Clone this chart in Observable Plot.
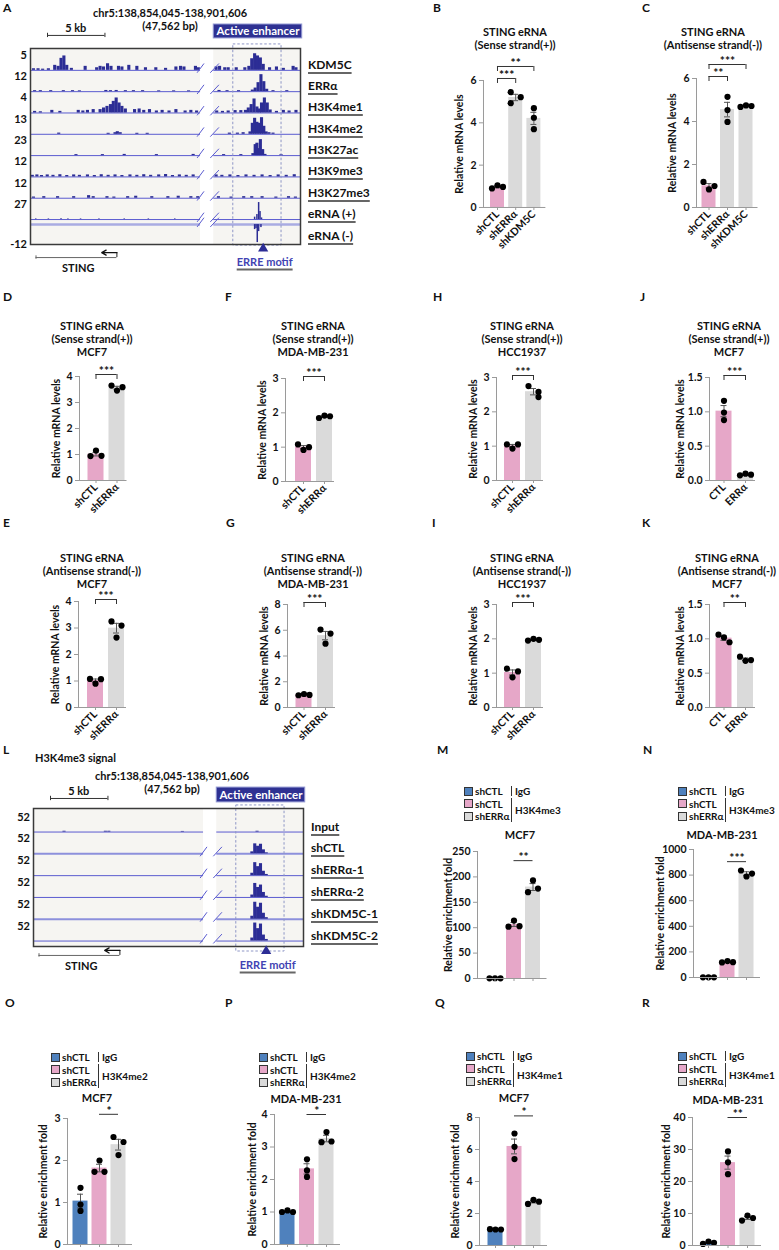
<!DOCTYPE html>
<html>
<head>
<meta charset="utf-8">
<script src="https://cdn.jsdelivr.net/npm/d3@7"></script>
<script src="https://cdn.jsdelivr.net/npm/@observablehq/plot@0.6"></script>
<style>
  body { margin: 0; background: #fff; }
  #fig { position: relative; width: 779px; height: 1250px; overflow: hidden; background: #fff;
         font-family: Lato, "Open Sans", sans-serif; font-weight: 700; color: #111; }
  #fig svg { position: absolute; overflow: visible; }
  .t { position: absolute; white-space: nowrap; line-height: 1; }
  .u { text-decoration: underline; text-decoration-color: #666; text-decoration-thickness: 1.5px; text-underline-offset: 3px; }
  .sq { position: absolute; width: 9px; height: 9px; border: 1px solid #333; box-sizing: border-box; }
  .vl { position: absolute; width: 1px; background: #333; }
</style>
</head>
<body>
<div id="fig"></div>
<script>
// ---------- colours ----------
const PINK = "#e6a7c8", GREY = "#dadada", BLUE = "#4f81bd", NAVY = "#2c2d95";

// ---------- qPCR of STING eRNA (three replicates per group) ----------
const groupsKD = ["shCTL", "shERRα", "shKDM5C"];
const groups2 = ["shCTL", "shERRα"];
const groupsOE = ["CTL", "ERRα"];

const sense_B = [[0.90, 1.05, 0.97], [5.45, 4.93, 5.21], [4.69, 4.24, 3.70]];
const antisense_C = [[1.19, 0.84, 1.00], [5.15, 4.53, 3.98], [4.68, 4.75, 4.72]];
const sense_MCF7 = [[0.94, 1.15, 0.95], [3.65, 3.46, 3.59]];
const sense_MDA = [[1.08, 0.92, 1.00], [1.85, 1.92, 1.90]];
const sense_HCC = [[1.05, 0.93, 1.05], [2.75, 2.58, 2.43]];
const sense_MCF7_OE = [[1.16, 0.99, 0.88], [0.075, 0.10, 0.085]];
const antisense_MCF7 = [[1.08, 0.90, 1.07], [3.25, 2.64, 3.09]];
const antisense_MDA = [[0.95, 1.05, 0.98], [6.05, 4.96, 5.74]];
const antisense_HCC = [[1.13, 0.88, 1.05], [1.95, 2.00, 1.97]];
const antisense_MCF7_OE = [[1.06, 1.02, 0.95], [0.74, 0.68, 0.69]];

// significance: [group a, group b, stars]
const sig_B = [[0, 1, "***"], [0, 2, "**"]];
const sig_C = [[0, 1, "**"], [0, 2, "***"]];
const sig3 = [[0, 1, "***"]];
const sig2 = [[0, 1, "**"]];

// ---------- ChIP-qPCR (IgG / histone mark enrichment) ----------
const chipGroups = ["shCTL IgG", "shCTL", "shERRα"];
const h3k4me3_MCF7 = [[0.3, 0.5, 0.4], [102, 114, 103], [170, 193, 177]];
const h3k4me3_MDA = [[1.0, 1.5, 1.0], [118, 128, 120], [836, 789, 812]];
const h3k4me2_MCF7 = [[1.35, 0.95, 0.80], [1.73, 2.00, 1.73], [2.56, 2.13, 2.44]];
const h3k4me2_MDA = [[1.0, 1.05, 1.0], [2.62, 2.28, 2.08], [3.15, 3.46, 3.17]];
const h3k4me1_MCF7 = [[1.02, 1.0, 1.0], [7.0, 6.17, 5.4], [2.6, 2.85, 2.74]];
const h3k4me1_MDA = [[0.5, 1.25, 0.83], [29.4, 26.0, 22.3], [7.8, 9.35, 8.6]];
const sigM = [[1, 2, "**"]], sigN = [[1, 2, "***"]], sigOne = [[1, 2, "*"]];

// ---------- genome browser tracks (position kb, signal % of track range) ----------
const trackNamesA = ["KDM5C", "ERRα", "H3K4me1", "H3K4me2", "H3K27ac", "H3K9me3", "H3K27me3", "eRNA (+)", "eRNA (-)"];
const trackRangeA = ["5", "12", "4", "13", "23", "12", "12", "27", "-12"];
const kdm5c = [[0.3,8],[0.7,8],[1.1,6],[1.6,8],[2.15,25],[2.45,20],[2.7,60],[2.95,72],[3.2,25],[3.6,10],[4.8,20],[5.8,13],[6.1,20],[6.4,17],[6.75,33],[7.05,20],[7.7,20],[8.0,17],[8.6,25],[9.3,20],[10.05,13],[10.95,13],[11.8,10],[12.7,17],[13.1,20],[13.4,17],[14.4,20],[14.65,13],[16.2,17],[16.5,20],[16.95,13],[17.25,13],[17.95,13],[18.7,13],[19.05,20],[19.3,58],[19.55,83],[19.8,72],[20.05,62],[20.3,30],[20.85,13],[21.45,17],[22.05,10],[22.9,20],[23.15,13]];
const erra = [[0.4,5],[0.9,5],[1.8,5],[2.9,5],[3.7,5],[4.3,4],[6.6,6],[7.0,5],[7.5,6],[8.3,5],[9.0,5],[9.8,5],[11.2,4],[12.5,4],[13.8,4],[16.45,6],[17.15,5],[18.15,5],[19.35,8],[19.6,18],[19.85,45],[20.1,85],[20.35,50],[20.6,12],[21.15,5],[22.35,5]];
const h3k4me1 = [[0.4,8],[0.9,6],[1.9,13],[2.6,8],[4.2,13],[4.6,10],[5.0,13],[5.5,17],[6.1,17],[6.4,25],[6.7,33],[7.0,42],[7.25,58],[7.5,75],[7.75,50],[8.0,33],[8.3,20],[9.1,17],[9.5,20],[9.9,13],[10.4,17],[11.0,10],[11.5,13],[12.1,10],[12.7,17],[13.5,10],[14.0,13],[14.5,10],[16.25,10],[16.75,8],[17.25,10],[17.85,12],[18.35,12],[18.75,13],[19.0,25],[19.25,42],[19.5,70],[19.75,30],[19.95,20],[20.15,50],[20.4,75],[20.65,50],[20.9,15],[21.45,8],[22.05,13],[22.55,10],[23.15,13]];
const h3k4me2 = [[2.5,6],[6.8,5],[7.4,8],[7.6,13],[7.85,8],[9.3,5],[10.2,5],[17.35,6],[18.05,6],[18.55,8],[19.15,12],[19.35,55],[19.55,80],[19.75,60],[19.95,55],[20.15,83],[20.35,40],[20.55,12],[20.8,8],[21.15,6]];
const h3k27ac = [[4.0,5],[6.3,5],[8.2,6],[11.0,5],[14.2,6],[16.85,5],[18.35,5],[19.4,10],[19.6,55],[19.75,62],[19.9,35],[20.05,80],[20.25,30],[20.45,6],[21.85,5]];
const h3k9me3 = [[0.2,8],[0.6,10],[1.0,7],[1.5,10],[2.0,8],[2.6,11],[3.2,7],[3.8,10],[4.3,8],[5.0,10],[5.6,7],[6.2,11],[6.8,8],[7.4,10],[8.0,7],[8.7,10],[9.3,8],[9.9,11],[10.5,8],[11.2,10],[11.8,12],[12.4,7],[13.0,10],[13.6,8],[14.2,10],[16.2,10],[16.7,8],[17.4,10],[18.1,7],[18.8,10],[19.5,8],[20.2,10],[20.9,7],[21.6,10],[22.3,8],[23.0,11]];
const h3k27me3 = [[0.3,6],[1.2,8],[2.4,8],[3.8,8],[5.1,13],[5.5,8],[6.7,8],[7.3,6],[8.5,8],[9.2,10],[10.6,8],[12.0,8],[12.9,10],[14.0,8],[14.6,8],[16.4,8],[17.5,6],[18.6,8],[19.3,8],[20.2,8],[21.4,6],[22.5,8],[23.1,6]];
const eRNAplus = [[0.5,3],[1.6,3],[2.7,4],[3.3,3],[4.4,3],[6.0,3],[8.2,3],[10.3,3],[12.6,3],[19.55,12],[19.75,25],[19.9,85],[20.02,40],[20.15,8]];
const eRNAminus = [[19.55,-25],[19.67,-20],[19.78,-90],[19.9,-35],[20.1,-15]];

const trackNamesL = ["Input", "shCTL", "shERRα-1", "shERRα-2", "shKDM5C-1", "shKDM5C-2"];
const trackRangeL = ["52", "52", "52", "52", "52", "52"];
const h3k4me3_input = [[2.7,4],[6.3,4],[6.6,4],[13.0,3],[19.5,4]];
const h3k4me3_shCTL = [[19.05,10],[19.3,50],[19.55,38],[19.8,48],[20.05,20],[20.3,5]];
const h3k4me3_shERRa1 = [[19.05,12],[19.3,65],[19.55,45],[19.8,60],[20.05,22],[20.3,6]];
const h3k4me3_shERRa2 = [[19.05,12],[19.3,70],[19.55,50],[19.8,62],[20.05,25],[20.3,6]];
const h3k4me3_shKDM5C1 = [[19.05,15],[19.3,85],[19.55,60],[19.8,80],[20.05,30],[20.3,8]];
const h3k4me3_shKDM5C2 = [[19.05,15],[19.3,90],[19.55,62],[19.8,85],[20.05,30],[20.3,8]];

// locus features (kb along the displayed window)
const stingGene = {start: 0.48, end: 7.52, tip: 6.2};
const errMotifKb = 20.25;
const enhancerKb = [15.95, 23.65];
const breakKb = [14.8, 15.95];
const dashedKb = [17.65, 21.85];

// ---------- helpers ----------
const fig = document.getElementById("fig");
const STYLE = {fontFamily: "Lato, 'Open Sans', sans-serif", fontSize: "10.5px", fontWeight: "700",
               background: "transparent", overflow: "visible", color: "#111"};

function label(text, x, y, o = {}) {
  const el = document.createElement("div");
  el.className = "t" + (o.cls ? " " + o.cls : "");
  el.textContent = text;
  const tx = o.anchor === "start" ? 0 : o.anchor === "end" ? -100 : -50;
  el.style.left = x + "px";
  el.style.top = y + "px";
  el.style.fontSize = (o.size || 11) + "px";
  if (o.color) el.style.color = o.color;
  if (o.weight) el.style.fontWeight = o.weight;
  el.style.transform = `translate(${tx}%, -50%)`;
  fig.appendChild(el);
  return el;
}
function box(cls, x, y, w, h, bg) {
  const el = document.createElement("div");
  el.className = cls;
  el.style.left = x + "px"; el.style.top = y + "px";
  if (w != null) el.style.width = w + "px";
  if (h != null) el.style.height = h + "px";
  if (bg) el.style.background = bg;
  fig.appendChild(el);
  return el;
}
function place(svg, left, top) {
  svg.style.left = left + "px";
  svg.style.top = top + "px";
  fig.appendChild(svg);
  return svg;
}

// horizontal spread of replicate dots (px) so close values sit side by side
function spreadDots(vals, ppu) {
  const ys = vals.map(v => v * ppu);
  if (d3.max(ys) - d3.min(ys) < 9) return [-5.5, 0, 5.5];
  const off = vals.map(() => 0);
  const idx = d3.range(vals.length).sort((a, b) => ys[a] - ys[b]);
  for (let j = 1; j < idx.length; j++) {
    const a = idx[j - 1], b = idx[j];
    if (ys[b] - ys[a] < 6) { off[Math.min(a, b)] = -5; off[Math.max(a, b)] = 5; }
  }
  return off;
}

// ---------- bar chart with replicate dots, SEM and significance ----------
function barPanel(c) {
  const n = c.reps.length;
  const ML = 52, MR = 6, MT = 34, MB = c.labels ? 52 : 12;
  const step = c.step, plotH = c.y0 - c.yTop, ppu = plotH / c.ymax;
  const xa = -(c.x0 - c.ax) / step, xb = n - 1 + c.tail / step;
  const W = (xb - xa) * step;
  const stats = c.reps.map((r, i) => {
    const m = d3.mean(r), s = d3.deviation(r) / Math.sqrt(r.length);
    return {i, m, lo: m - s, hi: m + s, color: c.colors[i]};
  });
  const pts = c.reps.flatMap((r, i) => {
    const off = spreadDots(r, ppu);
    return r.map((v, k) => ({x: i + off[k] / step, v}));
  });
  const hw = c.barW / 2 / step, cap = 3 / step;
  const sig = c.sig.map(([a, b, s], k) => {
    const y = c.sigY != null ? c.sigY : c.ymax + (2 + 12 * k) / ppu;
    return {a, b, s, y, leg: y - 5 / ppu};
  });
  const legs = sig.flatMap(d => [{x: d.a, y1: d.y, y2: d.leg}, {x: d.b, y1: d.y, y2: d.leg}]);
  const marks = [
    Plot.rect(stats, {x1: d => d.i - hw, x2: d => d.i + hw, y1: 0, y2: "m", fill: "color"}),
    Plot.ruleX(stats, {x: "i", y1: "lo", y2: "hi", stroke: "#555"}),
    Plot.ruleY(stats, {y: "hi", x1: d => d.i - cap, x2: d => d.i + cap, stroke: "#555"}),
    Plot.ruleY(stats, {y: "lo", x1: d => d.i - cap, x2: d => d.i + cap, stroke: "#555"}),
    Plot.dot(pts, {x: "x", y: "v", r: 3.1, fill: "#000"}),
    Plot.ruleY([0], {x1: xa, x2: xb, stroke: "#9a9a9a"}),
    Plot.ruleX([xa], {y1: 0, y2: c.ymax, stroke: "#9a9a9a"}),
    Plot.axisY({ticks: c.ticks, tickFormat: c.fmt || (d => String(d)), tickSize: 4, tickPadding: 3, stroke: "#9a9a9a", label: null}),
    Plot.axisX({ticks: d3.range(n), tickFormat: c.labels ? (i => c.labels[i]) : (() => ""),
                tickSize: 3, tickPadding: 2, tickRotate: c.labels ? -45 : 0, stroke: "#9a9a9a", label: null}),
    Plot.ruleY(sig, {y: "y", x1: "a", x2: "b", stroke: "#333"}),
    Plot.text(sig, {x: d => (d.a + d.b) / 2, y: "y", text: "s", dy: -3.5, fontSize: 12}),
    Plot.text([c.ylabel], {text: d => d, frameAnchor: "left", textAnchor: "middle", rotate: -90, dx: -c.ylOff, fontSize: 10.5})
  ];
  if (c.sigY == null) marks.push(Plot.ruleX(legs, {x: "x", y1: "y1", y2: "y2", stroke: "#333"}));
  const svg = Plot.plot({
    width: ML + W + MR, height: MT + plotH + MB,
    marginLeft: ML, marginRight: MR, marginTop: MT, marginBottom: MB,
    x: {domain: [xa, xb]},
    y: {domain: [0, c.ymax]},
    style: STYLE,
    marks
  });
  place(svg, c.ax - ML, c.yTop - MT);
  c.title.forEach((t, k) => label(t, c.tx, c.ty + k * 13, {size: 11}));
  if (c.legend) chipLegend(c.legend[0], c.legend[1], c.mark);
}

// legend for the ChIP-qPCR panels
function chipLegend(x, y, mark) {
  const rows = [[BLUE, "shCTL"], [PINK, "shCTL"], [GREY, "shERRα"]];
  const dy = 12.7;
  rows.forEach(([col, t], k) => {
    box("sq", x - 1, y + k * dy - 4.5, null, null, col);
    label(t, x + 10, y + k * dy, {anchor: "start", size: 10});
  });
  const sx = x + 46;
  box("vl", sx, y - 5, null, 10);
  box("vl", sx, y + dy - 6, null, dy + 12);
  label("IgG", sx + 4, y, {anchor: "start", size: 10});
  label(mark, sx + 4, y + dy * 1.5, {anchor: "start", size: 10});
}

// ---------- genome browser panel ----------
function genomePanel(g) {
  const rowPx = (g.box.b - g.box.t) / g.rows;
  const K = 20 / rowPx / 100;             // rows per % of track range
  const bars = g.tracks.flatMap(t => t.signal.map(([kb, v]) => ({kb, v, base: t.base, bw: t.bw})));
  const slashes = g.tracks.filter(t => t.slash).flatMap(t => [
    {x1: breakKb[0] - 0.3, x2: breakKb[0] + 0.3, y1: t.base + 0.11, y2: t.base - 0.32},
    {x1: breakKb[1] - 0.3, x2: breakKb[1] + 0.45, y1: t.base + 0.11, y2: t.base - 0.32}
  ]);
  const gene = {...stingGene, y: g.geneY, hook: g.geneY - 0.23};
  const enh = {x1: enhancerKb[0], x2: enhancerKb[1], y1: g.enhY[0], y2: g.enhY[1]};
  const svg = Plot.plot({
    width: g.width, height: g.height,
    marginLeft: g.box.l, marginRight: g.width - g.box.r, marginTop: g.box.t, marginBottom: g.height - g.box.b,
    x: {domain: [0, g.kb], axis: null},
    y: {domain: [0, g.rows], reverse: true, axis: null},
    style: STYLE,
    marks: [
      Plot.frame({fill: "#f6f5f2", stroke: "none"}),
      Plot.ruleY(g.tracks, {y: "base", x1: 0, x2: g.kb, stroke: "line", strokeWidth: "lw"}),
      Plot.rect(bars, {x1: d => d.kb - d.bw / 2, x2: d => d.kb + d.bw / 2, y1: "base", y2: d => d.base - d.v * K, fill: NAVY}),
      Plot.rect([breakKb], {x1: d => d[0], x2: d => d[1], y1: 0, y2: g.rows, fill: "#fff"}),
      Plot.link(slashes, {x1: "x1", y1: "y1", x2: "x2", y2: "y2", stroke: "#5a5bd0", strokeWidth: 1}),
      Plot.rect([dashedKb], {x1: d => d[0], x2: d => d[1], y1: g.dashY[0], y2: g.dashY[1],
                              fill: "none", stroke: "#8e96c6", strokeDasharray: "2.5,2"}),
      Plot.frame({stroke: "#3a3a3a", strokeWidth: 1.5}),
      Plot.rect([enh], {x1: "x1", x2: "x2", y1: "y1", y2: "y2", fill: "#2e3192", stroke: "#9298d2"}),
      Plot.text([enh], {x: d => (d.x1 + d.x2) / 2, y: d => (d.y1 + d.y2) / 2, text: () => "Active enhancer",
                        fill: "#fff", fontSize: 11.5}),
      // 5 kb scale bar
      Plot.ruleY([g.barY], {y: d => d, x1: g.barKb, x2: g.barKb + 5, stroke: "#333"}),
      Plot.ruleX([g.barKb, g.barKb + 5], {y1: g.barY - 0.1, y2: g.barY + 0.1, stroke: "#333"}),
      // STING gene body with its TSS arrow
      Plot.ruleY([gene], {y: "y", x1: "start", x2: "end", stroke: "#666"}),
      Plot.ruleX([gene], {x: "start", y1: d => d.y - 0.08, y2: d => d.y + 0.08, stroke: "#666"}),
      Plot.ruleX([gene], {x: "end", y1: "y", y2: "hook", stroke: "#222"}),
      Plot.arrow([gene], {x1: "end", y1: "hook", x2: "tip", y2: "hook", stroke: "#111", strokeWidth: 1.3, headLength: 6}),
      Plot.dot([errMotifKb], {x: d => d, y: g.motifY, symbol: "triangle", r: 3.8, fill: NAVY})
    ]
  });
  place(svg, g.left, g.top);
  const X = v => g.left + svg.scale("x").apply(v);
  const Y = v => g.top + svg.scale("y").apply(v);
  g.title.forEach((t, k) => label(t, g.titleX, g.titleY + k * 13, {size: 11}));
  label("5 kb", X(g.barKb + 2.5), Y(g.barY) - 8, {size: 11});
  g.tracks.forEach(t => {
    const yb = Y(t.base);
    label(t.range, g.box.l - 3 + g.left, t.bottom ? g.top + g.box.b - 1 : yb - 16, {anchor: "end", size: 11});
    label(t.name, g.box.r + 8 + g.left, t.below ? yb + 12 : yb - 5, {anchor: "start", size: 12, cls: "u"});
  });
  label("STING", X(4.2), Y(g.geneY) + 10, {size: 11});
  label("ERRE motif", X(errMotifKb) + 2, Y(g.motifY) + 13, {size: 11, color: "#4143b3", cls: "u"});
}

// ---------- panel A ----------
const signalsA = [kdm5c, erra, h3k4me1, h3k4me2, h3k27ac, h3k9me3, h3k27me3, eRNAplus, eRNAminus];
const tracksA = trackNamesA.map((name, i) => ({
  name, range: trackRangeA[i], signal: signalsA[i],
  base: i < 8 ? 1.02 + i * 0.995 : 8.22,
  bw: i >= 7 ? 0.13 : 0.27,
  slash: true,
  line: i === 8 ? "#a9abe2" : "#5a5bd0",
  lw: i === 8 ? 2.5 : 1,
  below: i === 8, bottom: i === 8
}));
genomePanel({
  left: 0, top: 0, width: 400, height: 275,
  box: {l: 30, r: 300, t: 48, b: 244}, rows: 9.15, kb: 23.5,
  tracks: tracksA,
  dashY: [-0.19, 9.2], enhY: [-1.12, -0.47], barY: -0.61, barKb: 1.48,
  geneY: 9.76, motifY: 9.34,
  title: ["chr5:138,854,045-138,901,606", "(47,562 bp)"], titleX: 170, titleY: 12
});

// ---------- panel L ----------
const signalsL = [h3k4me3_input, h3k4me3_shCTL, h3k4me3_shERRa1, h3k4me3_shERRa2, h3k4me3_shKDM5C1, h3k4me3_shKDM5C2];
const tracksL = trackNamesL.map((name, i) => ({
  name, range: trackRangeL[i], signal: signalsL[i],
  base: 1.08 + i, bw: 0.27, slash: i > 0,
  line: (i === 1 || i === 4) ? "#8d90dc" : "#5a5bd0",
  lw: (i === 1 || i === 4) ? 2 : 1
}));
genomePanel({
  left: 0, top: 740, width: 400, height: 235,
  box: {l: 33, r: 303, t: 68, b: 206}, rows: 6.33, kb: 23.5,
  tracks: tracksL,
  dashY: [-0.14, 6.56], enhY: [-0.96, -0.28], barY: -0.46, barKb: 1.48,
  geneY: 6.74, motifY: 6.54,
  title: ["chr5:138,854,045-138,901,606", "(47,562 bp)"], titleX: 172, titleY: 775
});
label("H3K4me3 signal", 35, 757, {anchor: "start", size: 11});

// ---------- bar panels ----------
const YL_MRNA = "Relative mRNA levels", YL_CHIP = "Relative enrichment fold";
const T_S = ["STING eRNA", "(Sense strand(+))"], T_A = ["STING eRNA", "(Antisense strand(-))"];
const f1 = d3.format(".1f");
const panels = [
  {reps: sense_B, labels: groupsKD, colors: [PINK, GREY, GREY], ax: 483, x0: 497, step: 18.2, tail: 12, barW: 14,
   y0: 207, yTop: 80, ymax: 6, ticks: [0, 2, 4, 6], sig: sig_B, title: T_S, tx: 515, ty: 31, ylabel: YL_MRNA, ylOff: 24},
  {reps: antisense_C, labels: groupsKD, colors: [PINK, GREY, GREY], ax: 696, x0: 708.5, step: 18.5, tail: 12, barW: 14,
   y0: 207, yTop: 78, ymax: 6, ticks: [0, 2, 4, 6], sig: sig_C, title: T_A, tx: 713, ty: 31, ylabel: YL_MRNA, ylOff: 24},

  {reps: sense_MCF7, labels: groups2, colors: [PINK, GREY], ax: 79, x0: 95.5, step: 21, tail: 10, barW: 16,
   y0: 480, yTop: 376, ymax: 4, ticks: [0, 1, 2, 3, 4], sig: sig3, title: [...T_S, "MCF7"], tx: 92, ty: 325, ylabel: YL_MRNA, ylOff: 23},
  {reps: sense_MDA, labels: groups2, colors: [PINK, GREY], ax: 285, x0: 303, step: 21, tail: 10, barW: 16,
   y0: 481, yTop: 378, ymax: 3, ticks: [0, 1, 2, 3], sig: sig3, title: [...T_S, "MDA-MB-231"], tx: 313, ty: 325, ylabel: YL_MRNA, ylOff: 23},
  {reps: sense_HCC, labels: groups2, colors: [PINK, GREY], ax: 496, x0: 512, step: 21, tail: 10, barW: 16,
   y0: 480, yTop: 377, ymax: 3, ticks: [0, 1, 2, 3], sig: sig3, title: [...T_S, "HCC1937"], tx: 522, ty: 325, ylabel: YL_MRNA, ylOff: 23},
  {reps: sense_MCF7_OE, labels: groupsOE, colors: [PINK, GREY], ax: 709, x0: 723.5, step: 21.5, tail: 10, barW: 16,
   y0: 480, yTop: 377, ymax: 1.5, ticks: [0, 0.5, 1, 1.5], fmt: f1, sig: sig3, title: [...T_S, "MCF7"], tx: 729, ty: 325, ylabel: YL_MRNA, ylOff: 29},

  {reps: antisense_MCF7, labels: groups2, colors: [PINK, GREY], ax: 78, x0: 95, step: 21, tail: 10, barW: 16,
   y0: 707, yTop: 601, ymax: 4, ticks: [0, 1, 2, 3, 4], sig: sig3, title: [...T_A, "MCF7"], tx: 92, ty: 557, ylabel: YL_MRNA, ylOff: 23},
  {reps: antisense_MDA, labels: groups2, colors: [PINK, GREY], ax: 287, x0: 303.5, step: 21.5, tail: 10, barW: 16,
   y0: 707, yTop: 604, ymax: 8, ticks: [0, 2, 4, 6, 8], sig: sig3, title: [...T_A, "MDA-MB-231"], tx: 313, ty: 557, ylabel: YL_MRNA, ylOff: 23},
  {reps: antisense_HCC, labels: groups2, colors: [PINK, GREY], ax: 496, x0: 512, step: 21, tail: 10, barW: 16,
   y0: 707, yTop: 604, ymax: 3, ticks: [0, 1, 2, 3], sig: sig3, title: [...T_A, "HCC1937"], tx: 522, ty: 557, ylabel: YL_MRNA, ylOff: 23},
  {reps: antisense_MCF7_OE, labels: groupsOE, colors: [PINK, GREY], ax: 709, x0: 723.5, step: 21.5, tail: 10, barW: 16,
   y0: 707, yTop: 604, ymax: 1.5, ticks: [0, 0.5, 1, 1.5], fmt: f1, sig: sig2, title: [...T_A, "MCF7"], tx: 727, ty: 557, ylabel: YL_MRNA, ylOff: 29},

  {reps: h3k4me3_MCF7, colors: [BLUE, PINK, GREY], ax: 477, x0: 494.5, step: 19, tail: 14, barW: 15,
   y0: 978, yTop: 851, ymax: 250, ticks: [0, 50, 100, 150, 200, 250], sig: sigM, sigY: 232,
   title: ["MCF7"], tx: 520, ty: 834, ylabel: YL_CHIP, ylOff: 29, legend: [465, 791], mark: "H3K4me3"},
  {reps: h3k4me3_MDA, colors: [BLUE, PINK, GREY], ax: 693, x0: 708, step: 19, tail: 14, barW: 15,
   y0: 977, yTop: 849, ymax: 1000, ticks: [0, 200, 400, 600, 800, 1000], fmt: d3.format("d"), sig: sigN, sigY: 905,
   title: ["MDA-MB-231"], tx: 722, ty: 834, ylabel: YL_CHIP, ylOff: 33, legend: [679, 791], mark: "H3K4me3"},
  {reps: h3k4me2_MCF7, colors: [BLUE, PINK, GREY], ax: 67, x0: 80, step: 19, tail: 14, barW: 15,
   y0: 1244, yTop: 1118, ymax: 3, ticks: [0, 1, 2, 3], sig: sigOne, sigY: 3.1,
   title: ["MCF7"], tx: 97, ty: 1097, ylabel: YL_CHIP, ylOff: 24, legend: [52, 1057], mark: "H3K4me2"},
  {reps: h3k4me2_MDA, colors: [BLUE, PINK, GREY], ax: 274, x0: 287, step: 19.5, tail: 14, barW: 15,
   y0: 1244, yTop: 1114, ymax: 4, ticks: [0, 1, 2, 3, 4], sig: sigOne, sigY: 4.0,
   title: ["MDA-MB-231"], tx: 306, ty: 1098, ylabel: YL_CHIP, ylOff: 22, legend: [260, 1057], mark: "H3K4me2"},
  {reps: h3k4me1_MCF7, colors: [BLUE, PINK, GREY], ax: 479, x0: 495, step: 19, tail: 14, barW: 15,
   y0: 1245, yTop: 1117, ymax: 8, ticks: [0, 2, 4, 6, 8], sig: sigOne, sigY: 8.1,
   title: ["MCF7"], tx: 514, ty: 1097, ylabel: YL_CHIP, ylOff: 24, legend: [467, 1056], mark: "H3K4me1"},
  {reps: h3k4me1_MDA, colors: [BLUE, PINK, GREY], ax: 692, x0: 708, step: 19.5, tail: 14, barW: 15,
   y0: 1245, yTop: 1117, ymax: 40, ticks: [0, 10, 20, 30, 40], sig: sigM, sigY: 40.0,
   title: ["MDA-MB-231"], tx: 728, ty: 1099, ylabel: YL_CHIP, ylOff: 26, legend: [679, 1056], mark: "H3K4me1"}
];
panels.forEach(barPanel);

// ---------- panel letters ----------
const letters = [["A", 3, 8], ["B", 433, 8], ["C", 642, 8],
  ["D", 3, 297], ["F", 225, 297], ["H", 433, 297], ["J", 640, 297],
  ["E", 3, 523], ["G", 226, 523], ["I", 432, 523], ["K", 642, 523],
  ["L", 3, 750], ["M", 437, 750], ["N", 643, 750],
  ["O", 5, 1003], ["P", 225, 1003], ["Q", 435, 1003], ["R", 642, 1003]];
letters.forEach(([t, x, y]) => label(t, x, y, {anchor: "start", size: 12}));
</script>
</body>
</html>
